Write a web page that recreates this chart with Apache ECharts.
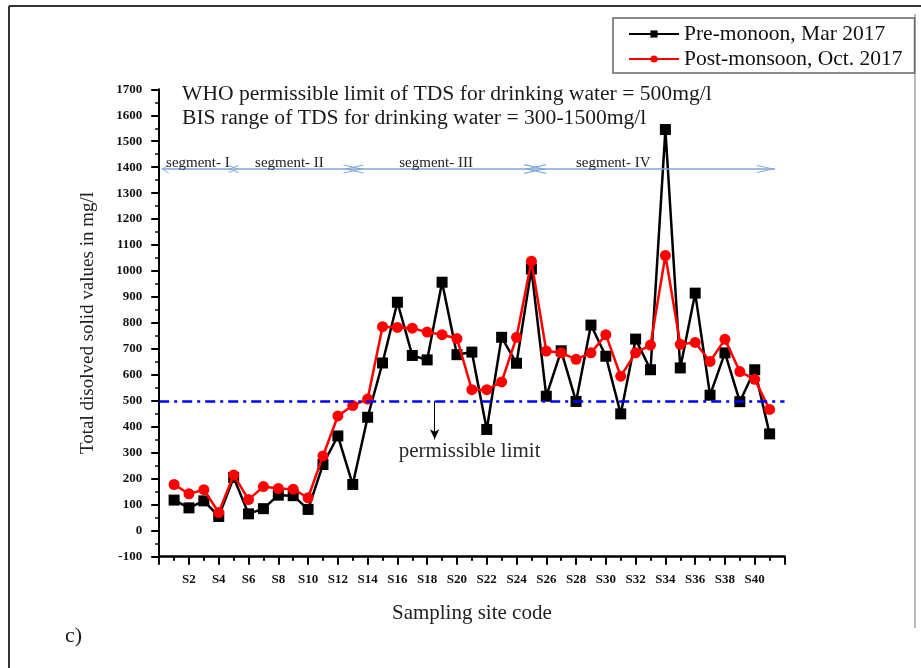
<!DOCTYPE html>
<html><head><meta charset="utf-8">
<script src="https://cdn.jsdelivr.net/npm/echarts@6/dist/echarts.min.js"></script>
<style>html,body{margin:0;padding:0;background:#fff}#c{width:921px;height:668px}</style>
</head><body><div id="c"></div>
<script>
// ---- data ----
const sites = ['S1','S2','S3','S4','S5','S6','S7','S8','S9','S10','S11','S12','S13','S14','S15','S16','S17','S18','S19','S20','S21','S22','S23','S24','S25','S26','S27','S28','S29','S30','S31','S32','S33','S34','S35','S36','S37','S38','S39','S40','S41'];
const preMonsoon = [118, 88, 115, 55, 205, 65, 85, 137, 135, 82, 255, 365, 178, 437, 646, 880, 675, 658, 957, 678, 688, 390, 745, 645, 1008, 518, 693, 498, 792, 672, 450, 738, 620, 1545, 627, 915, 522, 685, 497, 620, 373];
const postMonsoon = [178, 142, 158, 70, 215, 120, 170, 163, 160, 127, 288, 442, 482, 507, 786, 783, 780, 765, 755, 740, 543, 543, 573, 745, 1038, 692, 685, 660, 685, 755, 595, 685, 715, 1060, 718, 725, 652, 737, 613, 583, 467];
const seriesNames = ['Pre-monoon, Mar 2017', 'Post-monsoon, Oct. 2017'];
const yMin = -100, yMax = 1700, yStep = 100;
const xMin = 0, xMax = 42, xStep = 2;
const limitValue = 500;
const limitText = 'permissible limit';
const limitArrowSite = 18.5, limitArrowEnd = 352;
const limitLabelSite = 20.85, limitLabelValue = 304;
const segmentNames = ['segment- I', 'segment- II', 'segment- III', 'segment- IV'];
const segmentBounds = [0.17, 5, 13.05, 25.25, 41.36];
const segmentLabelSites = [2.6, 8.75, 18.6, 30.5];
const segmentLevel = 1393, segmentLabelLevel = 1417;
const noteLines = ['WHO permissible limit of TDS for drinking water = 500mg/l', 'BIS range of TDS for drinking water = 300-1500mg/l'];
const panelTag = 'c)';

// ---- chart ----
const SERIF = "'Liberation Serif', 'Times New Roman', serif";
const chart = echarts.init(document.getElementById('c'), null, {renderer: 'canvas'});
const chev = 'path://M5,0L10,16L8.8,16L5,3.2L1.2,16L0,16Z';
const endSizes = [[9,7],[8,10],[9,20],[10,22],[8,18]];
const segLines = segmentNames.map((n, i) => [
  {coord: [segmentBounds[i], segmentLevel], symbol: chev, symbolSize: endSizes[i],
   symbolOffset: i === 0 ? [0, 3.5] : [0, 0],
   lineStyle: {color: '#7fa6d6', width: 1.5, type: 'solid'}},
  {coord: [segmentBounds[i + 1], segmentLevel], symbol: chev, symbolSize: endSizes[i + 1],
   symbolOffset: i === segmentNames.length - 1 ? [0, 9] : [0, 0]}
]);

const option = {
  animation: false,
  backgroundColor: '#fff',
  textStyle: {fontFamily: SERIF},
  grid: {left: 159.2, right: 136.5, top: 89.3, bottom: 111.3, containLabel: false},
  legend: {
    data: seriesNames, orient: 'vertical', left: 613, top: 18,
    padding: [5, 12, 3, 15], itemGap: 3, itemWidth: 50, itemHeight: 9,
    backgroundColor: '#fff', borderColor: '#666', borderWidth: 1.5, borderRadius: 0,
    textStyle: {fontFamily: SERIF, fontSize: 21.5, color: '#111'}
  },
  xAxis: {
    type: 'value', min: xMin, max: xMax, interval: xStep,
    name: 'Sampling site code', nameLocation: 'middle', nameGap: 46,
    nameTextStyle: {fontFamily: SERIF, fontSize: 21, color: '#222'},
    axisLine: {show: true, onZero: false, lineStyle: {color: '#000', width: 2.5}},
    axisTick: {show: true, length: 8, lineStyle: {color: '#000', width: 2}},
    minorTick: {show: true, splitNumber: 2, length: 4, lineStyle: {color: '#000', width: 2}},
    splitLine: {show: false},
    axisLabel: {fontFamily: SERIF, fontWeight: 'bold', fontSize: 13, color: '#111', margin: 16,
      formatter: v => sites[v - 1] || ''}
  },
  yAxis: {
    type: 'value', min: yMin, max: yMax, interval: yStep,
    name: 'Total disolved solid values in mg/l', nameLocation: 'middle', nameGap: 62, nameRotate: 90,
    nameTextStyle: {fontFamily: SERIF, fontSize: 19, color: '#222'},
    axisLine: {show: true, onZero: false, lineStyle: {color: '#000', width: 2}},
    axisTick: {show: true, length: 8, lineStyle: {color: '#000', width: 2}},
    minorTick: {show: true, splitNumber: 2, length: 4, lineStyle: {color: '#000', width: 1.5}},
    splitLine: {show: false},
    axisLabel: {fontFamily: SERIF, fontWeight: 'bold', fontSize: 13, color: '#111', margin: 17,
      formatter: v => String(v)}
  },
  series: [
    {
      name: 'annot', type: 'line', data: [], silent: true, z: 1,
      markLine: {
        silent: true, animation: false, symbol: 'none', label: {show: false},
        data: [
          {yAxis: limitValue, symbol: 'none', lineStyle: {color: '#0000ff', width: 2.5, type: [10, 5, 3, 5]}},
          [{coord: [limitArrowSite, limitValue], symbol: 'none', lineStyle: {color: '#000', width: 1, type: 'solid'}},
           {coord: [limitArrowSite, limitArrowEnd], symbol: 'arrow', symbolSize: [7, 10]}],
          ...segLines
        ]
      },
      markPoint: {
        silent: true, animation: false, symbol: 'rect', symbolSize: 1,
        itemStyle: {color: 'rgba(0,0,0,0)'},
        label: {show: true, position: 'inside', formatter: '{b}', fontFamily: SERIF, color: '#222'},
        data: [
          ...segmentNames.map((n, i) => ({name: n, coord: [segmentLabelSites[i], segmentLabelLevel], label: {fontSize: 15}})),
          {name: limitText, coord: [limitLabelSite, limitLabelValue], label: {fontSize: 21, color: '#2a2a2a'}}
        ]
      }
    },
    {
      name: seriesNames[0], type: 'line', z: 3,
      data: preMonsoon.map((v, i) => [i + 1, v]),
      symbol: 'rect', symbolSize: 11,
      itemStyle: {color: '#000'}, lineStyle: {color: '#000', width: 2.5}
    },
    {
      name: seriesNames[1], type: 'line', z: 4,
      data: postMonsoon.map((v, i) => [i + 1, v]),
      symbol: 'circle', symbolSize: 11,
      itemStyle: {color: '#ff0000'}, lineStyle: {color: '#ff0000', width: 2.5}
    }
  ],
  graphic: [
    {type: 'line', shape: {x1: 9, y1: 6, x2: 921, y2: 6}, style: {stroke: '#333', lineWidth: 2}, silent: true},
    {type: 'line', shape: {x1: 9, y1: 6, x2: 9, y2: 668}, style: {stroke: '#333', lineWidth: 2}, silent: true},
    {type: 'line', shape: {x1: 915, y1: 14, x2: 915, y2: 628}, style: {stroke: '#bbb', lineWidth: 2}, silent: true},
    {type: 'text', x: 182, y: 94, style: {text: noteLines[0], font: '21.6px ' + SERIF, fill: '#1a1a1a', verticalAlign: 'middle'}, silent: true},
    {type: 'text', x: 182, y: 118, style: {text: noteLines[1], font: '21.6px ' + SERIF, fill: '#1a1a1a', verticalAlign: 'middle'}, silent: true},
    {type: 'text', x: 65, y: 636, style: {text: panelTag, font: '22px ' + SERIF, fill: '#1a1a1a', verticalAlign: 'middle'}, silent: true}
  ]
};
chart.setOption(option);
</script>
</body></html>
